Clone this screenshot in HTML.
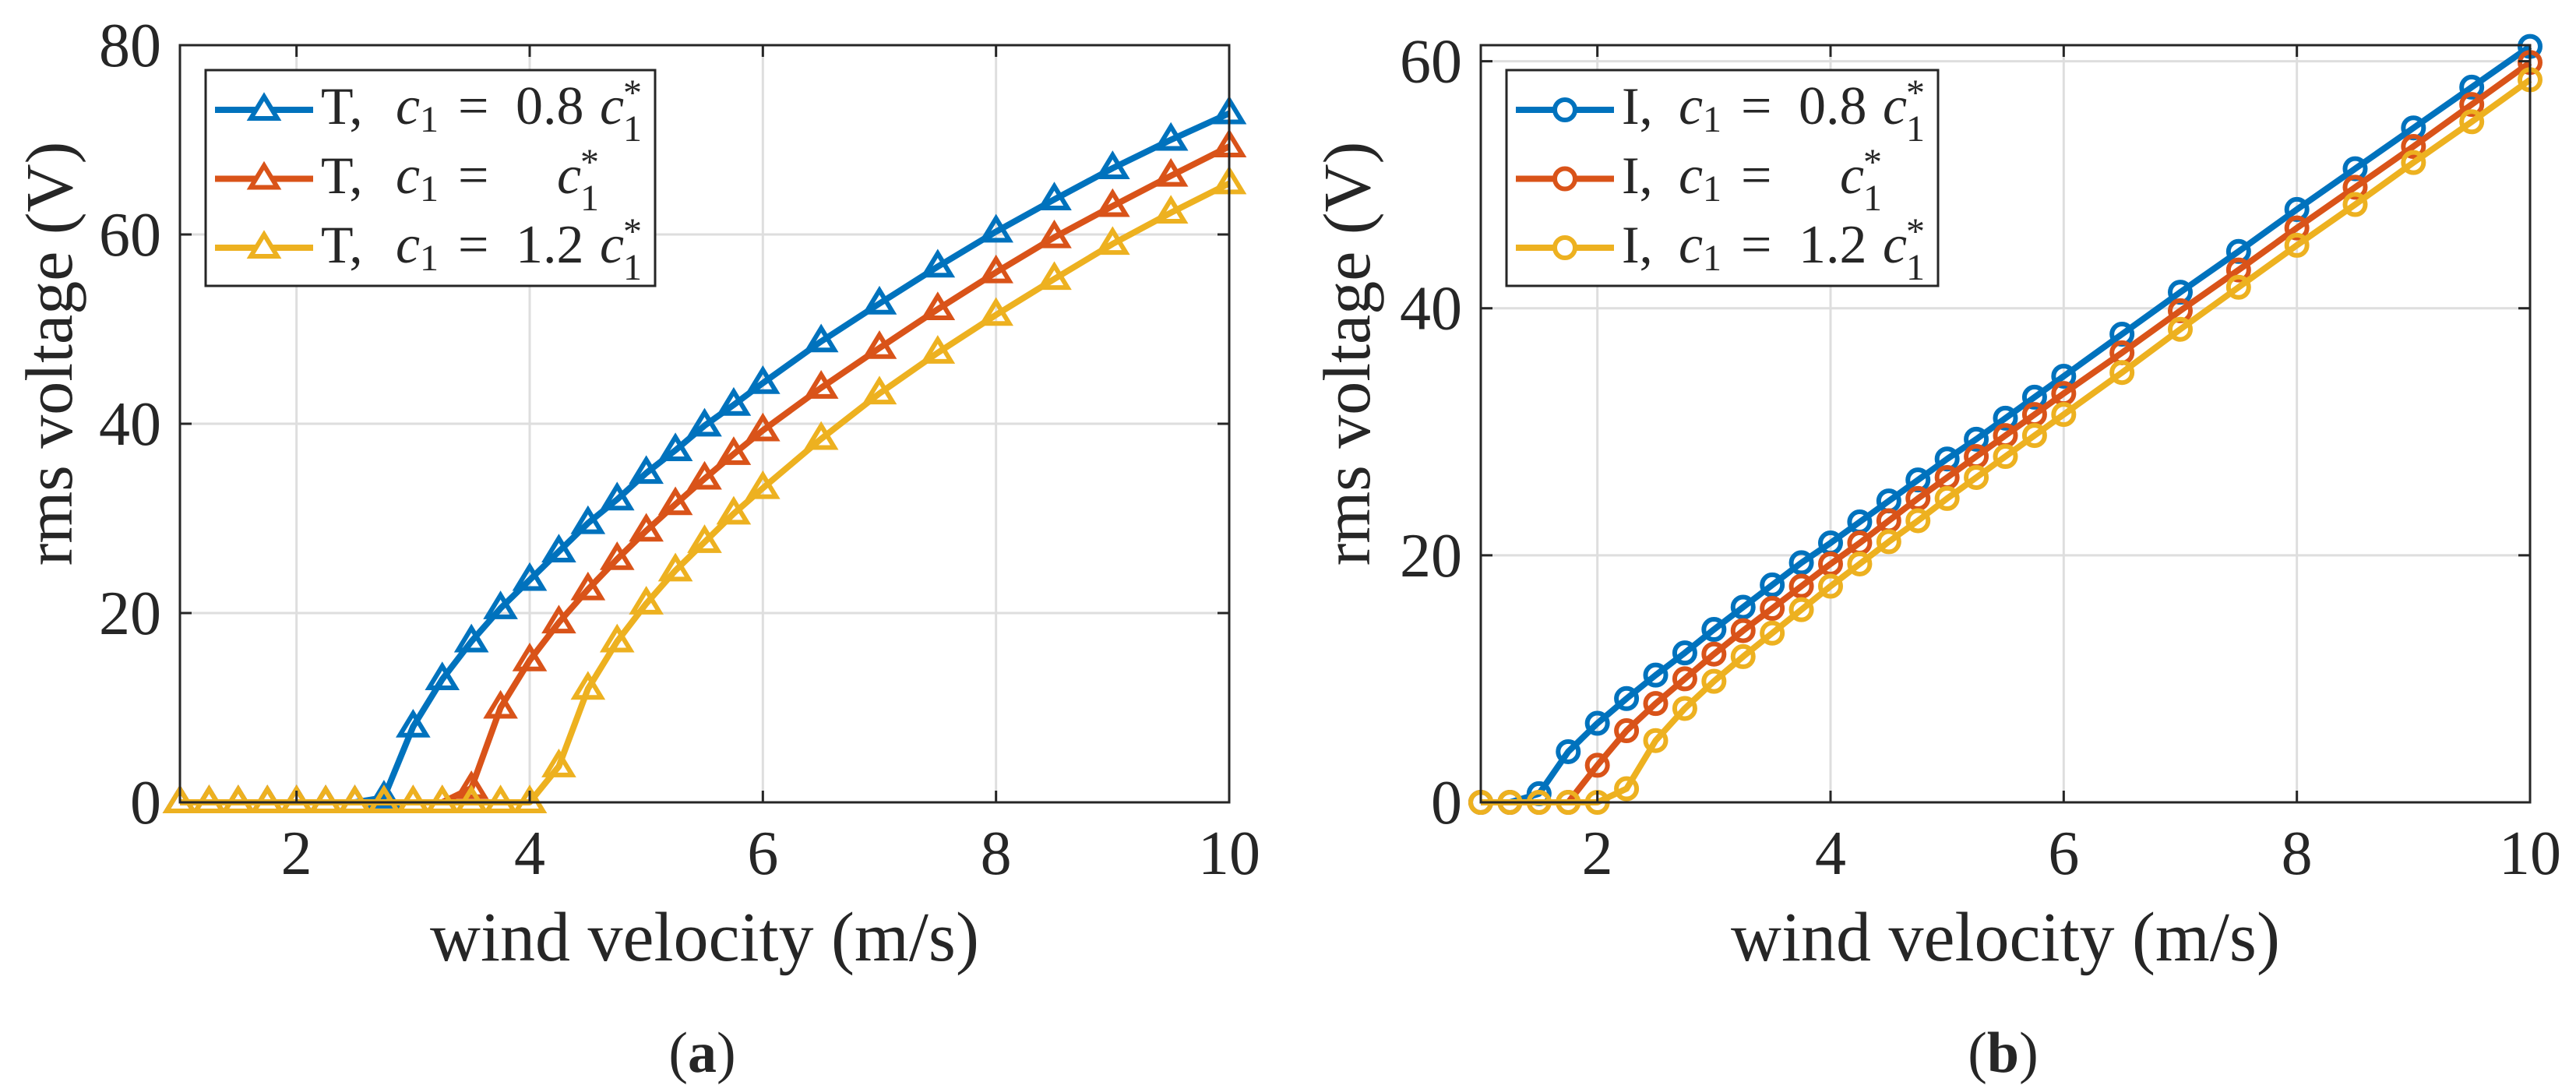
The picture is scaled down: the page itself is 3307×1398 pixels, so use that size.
<!DOCTYPE html>
<html><head><meta charset="utf-8">
<style>
html,body{margin:0;padding:0;background:#fff;}
svg{display:block;}
text{font-family:"Liberation Serif",serif;fill:#262626;}
</style></head>
<body>
<svg id="fig" width="3307" height="1398" viewBox="0 0 3307 1398" xmlns="http://www.w3.org/2000/svg">
<rect width="3307" height="1398" fill="#fff"/>
<g id="pa"></g>
<g id="pb"></g>
</svg>
<script>
const xsA = [1,1.25,1.5,1.75,2,2.25,2.5,2.75,3,3.25,3.5,3.75,4,4.25,4.5,4.75,5,5.25,5.5,5.75,6,6.5,7,7.5,8,8.5,9,9.5,10];
const tBlue   = [0,0,0,0,0,0,0,0.5,8,13,17,20.5,23.5,26.5,29.5,32,34.8,37.2,39.8,42,44.3,48.7,52.7,56.6,60.3,63.7,67,70,72.8];
const tOrange = [0,0,0,0,0,0,0,0,0,0,1.5,10,15,19,22.5,25.7,28.7,31.5,34.2,36.8,39.3,43.8,48,52.1,56,59.7,63,66.2,69.3];
const tYellow = [0,0,0,0,0,0,0,0,0,0,0,0,0,3.8,12,17,21,24.5,27.5,30.5,33.2,38.4,43.2,47.5,51.5,55.3,59,62.3,65.4];
const iBlue   = [0,0,0.7,4.1,6.4,8.4,10.3,12.1,14,15.8,17.6,19.4,21,22.7,24.4,26.1,27.8,29.4,31.1,32.8,34.5,37.9,41.3,44.6,48,51.3,54.6,57.9,61.2];
const iOrange = [0,0,0,0,3,5.8,8,10,12,13.9,15.7,17.5,19.3,21,22.8,24.6,26.3,28,29.7,31.4,33.1,36.4,39.8,43.1,46.5,49.8,53.1,56.5,59.9];
const iYellow = [0,0,0,0,0,1.1,5,7.6,9.8,11.8,13.7,15.6,17.5,19.3,21.1,22.8,24.6,26.3,28,29.7,31.4,34.8,38.3,41.7,45.1,48.4,51.8,55.1,58.5];
const xTicks = [2,4,6,8,10];
const yTicksA = [0,20,40,60,80];
const yTicksB = [0,20,40,60];
const legendA = ["0.8","","1.2"];

const NS="http://www.w3.org/2000/svg";
const COLORS=["#0072BD","#D95319","#EDB120"];
function mk(parent,tag,attrs,txt){const e=document.createElementNS(NS,tag);for(const k in attrs)e.setAttribute(k,attrs[k]);if(txt!==undefined)e.textContent=txt;parent.appendChild(e);return e;}

function panel(g,cfg){
  const L=cfg.left,R=cfg.right,T=58,B=1030;
  const sx=v=>L+(v-1)/9*(R-L);
  const sy=v=>B-v/cfg.ymax*(B-T);
  xTicks.forEach(t=>{const e=mk(g,'line',{x1:sx(t),x2:sx(t),y1:T,y2:B,stroke:'#dedede','stroke-width':3});
    
    });
  cfg.yticks.forEach(t=>{const e=mk(g,'line',{x1:L,x2:R,y1:sy(t),y2:sy(t),stroke:'#dedede','stroke-width':3});
    
    });
  cfg.series.forEach((ys,si)=>{
    const sg=mk(g,'g',{});
    
    
    const pts=xsA.map((x,i)=>sx(x)+','+sy(ys[i])).join(' ');
    mk(sg,'polyline',{points:pts,fill:'none',stroke:COLORS[si],'stroke-width':8,'stroke-linejoin':'round'});
    xsA.forEach((x,i)=>{
      const cx=sx(x),cy=sy(ys[i]);let m;
      if(cfg.marker==='tri') m=mk(sg,'polygon',{points:`${cx},${cy-17} ${cx+17},${cy+11} ${cx-17},${cy+11}`,fill:'none',stroke:COLORS[si],'stroke-width':6});
      else m=mk(sg,'circle',{cx:cx,cy:cy,r:13,fill:'none',stroke:COLORS[si],'stroke-width':6});
      
      
    });
  });
  const box=mk(g,'rect',{x:L,y:T,width:R-L,height:B-T,fill:'none',stroke:'#262626','stroke-width':3});
  
  
  xTicks.forEach(t=>{
    mk(g,'line',{x1:sx(t),x2:sx(t),y1:B,y2:B-15,stroke:'#262626','stroke-width':3});
    mk(g,'line',{x1:sx(t),x2:sx(t),y1:T,y2:T+15,stroke:'#262626','stroke-width':3});
    const e=mk(g,'text',{x:sx(t),y:1122,'font-size':80,'text-anchor':'middle'},String(t));
    
    
  });
  cfg.yticks.forEach(t=>{
    mk(g,'line',{x1:L,x2:L+15,y1:sy(t),y2:sy(t),stroke:'#262626','stroke-width':3});
    mk(g,'line',{x1:R,x2:R-15,y1:sy(t),y2:sy(t),stroke:'#262626','stroke-width':3});
    const e=mk(g,'text',{x:L-24,y:sy(t)+27,'font-size':80,'text-anchor':'end'},String(t));
    
    
  });
  const xl=mk(g,'text',{x:(L+R)/2,y:1233,'font-size':90,'text-anchor':'middle'},'wind velocity (m/s)');
  
  
  const yl=mk(g,'text',{x:0,y:0,'font-size':86,'text-anchor':'middle',transform:`translate(${cfg.ylx},454) rotate(-90)`},'rms voltage (V)');
  
  
  const cap=mk(g,'text',{x:(L+R)/2-3,y:1376,'font-size':74,'text-anchor':'middle','font-family':'Liberation Sans, sans-serif'},'');
  
  
  mk(cap,'tspan',{},'(');mk(cap,'tspan',{'font-weight':'bold'},cfg.cap);mk(cap,'tspan',{},')');
  const lx=L+33, lw=cfg.legW, d=cfg.shift;
  const lg=mk(g,'g',{});
  
  
  mk(lg,'rect',{x:lx,y:90,width:lw,height:277,fill:'#fff',stroke:'#262626','stroke-width':3});
  [0,1,2].forEach(i=>{
    const ly=141+i*88.5, by=159+i*89;
    const en=mk(lg,'g',{});
    
    
    mk(en,'line',{x1:lx+12,x2:lx+138,y1:ly,y2:ly,stroke:COLORS[i],'stroke-width':8});
    const cx=lx+75;
    if(cfg.marker==='tri') mk(en,'polygon',{points:`${cx},${ly-17} ${cx+17},${ly+11} ${cx-17},${ly+11}`,fill:'#fff',stroke:COLORS[i],'stroke-width':6});
    else mk(en,'circle',{cx:cx,cy:ly,r:13,fill:'#fff',stroke:COLORS[i],'stroke-width':6});
    const tx=lx+148;
    mk(en,'text',{x:tx,y:by,'font-size':68,fill:'#000'},cfg.lab+',');
    mk(en,'text',{x:tx+96-d,y:by,'font-size':70,'font-style':'italic',fill:'#000'},'c');
    mk(en,'text',{x:tx+127-d,y:by+10,'font-size':48,fill:'#000'},'1');
    mk(en,'text',{x:tx+176-d,y:by,'font-size':70,fill:'#000'},'=');
    const coef=legendA[i];
    const cx2 = (coef? tx+358 : tx+303)-d;
    if(coef) mk(en,'text',{x:tx+250-d,y:by,'font-size':70,fill:'#000'},coef);
    mk(en,'text',{x:cx2,y:by,'font-size':70,'font-style':'italic',fill:'#000'},'c');
    mk(en,'text',{x:cx2+30,y:by+22,'font-size':48,fill:'#000'},'1');
    mk(en,'text',{x:cx2+30,y:by-24,'font-size':48,fill:'#000'},'*');
  });
}
panel(document.getElementById('pa'),{left:231,right:1578,ymax:80,yticks:yTicksA,series:[tBlue,tOrange,tYellow],names:['t-0.8','t-1.0','t-1.2'],marker:'tri',lab:'T',ylx:92,cap:'a',legW:577,shift:0});
panel(document.getElementById('pb'),{left:1901,right:3248,ymax:61.3,yticks:yTicksB,series:[iBlue,iOrange,iYellow],names:['i-0.8','i-1.0','i-1.2'],marker:'circ',lab:'I',ylx:1758,cap:'b',legW:554,shift:23});
</script>
</body></html>
